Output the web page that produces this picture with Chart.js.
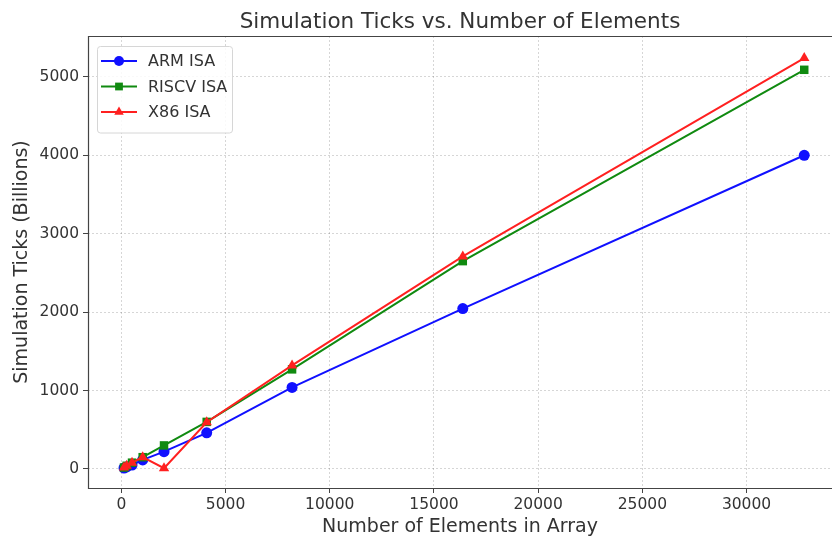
<!DOCTYPE html>
<html>
<head>
<meta charset="utf-8">
<script src="https://cdn.jsdelivr.net/npm/chart.js@4.4.0/dist/chart.umd.min.js"></script>
<style>
  html, body { margin: 0; padding: 0; background: #fff; overflow: hidden; }
  #wrap { width: 832px; height: 538px; }
  canvas { display: block; }
</style>
</head>
<body>
<div id="wrap"><canvas id="chart"></canvas></div>
<script>
// data
const elements = [128, 256, 512, 1024, 2048, 4096, 8192, 16384, 32768];
const armTicks = [12, 25, 50, 115, 220, 460, 1040, 2045, 4000];
const riscvTicks = [18, 40, 80, 150, 300, 600, 1270, 2650, 5090];
const x86Ticks = [18, 40, 80, 150, 10, 595, 1320, 2710, 5240];
const xTickValues = [0, 5000, 10000, 15000, 20000, 25000, 30000];
const yTickValues = [0, 1000, 2000, 3000, 4000, 5000];
const chartTitle = 'Simulation Ticks vs. Number of Elements';

const FONT = "'DejaVu Sans', sans-serif";
const TEXT = '#333333';

function toPoints(ys) {
  return elements.map((x, i) => ({ x: x, y: ys[i] }));
}

// matplotlib-style frame (right spine falls just off the picture), title centred over the axes
const framePlugin = {
  id: 'frame',
  afterDraw(chart) {
    const { ctx, chartArea: a } = chart;
    ctx.save();
    ctx.strokeStyle = '#444';
    ctx.lineWidth = 1.2;
    ctx.beginPath();
    ctx.moveTo(a.right + 4, a.top + 0.5);
    ctx.lineTo(a.left + 0.5, a.top + 0.5);
    ctx.lineTo(a.left + 0.5, a.bottom + 0.5);
    ctx.lineTo(a.right + 4, a.bottom + 0.5);
    ctx.stroke();
    ctx.fillStyle = TEXT;
    ctx.font = '21.5px ' + FONT;
    ctx.textAlign = 'center';
    ctx.textBaseline = 'middle';
    ctx.fillText(chartTitle, (a.left + a.right) / 2, 22);
    ctx.restore();
  }
};

// legend box inside the axes, line + marker like matplotlib
const boxLegend = {
  id: 'boxLegend',
  afterDraw(chart) {
    const { ctx, chartArea: a } = chart;
    const sets = chart.data.datasets;
    const x0 = a.left + 9, y0 = a.top + 10;
    const w = 135, rowH = 25.5, h = 16 + rowH * sets.length - 6;
    ctx.save();
    ctx.fillStyle = 'rgba(255,255,255,0.85)';
    ctx.strokeStyle = '#d6d6d6';
    ctx.lineWidth = 1;
    ctx.beginPath();
    ctx.roundRect(x0 + 0.5, y0 + 0.5, w, h, 3);
    ctx.fill();
    ctx.stroke();
    sets.forEach((ds, i) => {
      const cy = y0 + 15 + i * rowH;
      ctx.strokeStyle = ds.borderColor;
      ctx.lineWidth = 2;
      ctx.beginPath();
      ctx.moveTo(x0 + 4, cy);
      ctx.lineTo(x0 + 40, cy);
      ctx.stroke();
      ctx.fillStyle = ds.pointBackgroundColor;
      ctx.strokeStyle = ds.pointBorderColor;
      Chart.helpers.drawPoint(ctx, { pointStyle: ds.pointStyle, rotation: 0, radius: ds.pointRadius - 0.5, borderWidth: 0 }, x0 + 22, cy);
      ctx.fillStyle = TEXT;
      ctx.font = '16px ' + FONT;
      ctx.textBaseline = 'middle';
      ctx.fillText(ds.label, x0 + 51, cy + 1);
    });
    ctx.restore();
  }
};

const series = [
  { label: 'ARM ISA', data: armTicks, color: '#1010ff', style: 'circle', r: 5.5, order: 2 },
  { label: 'RISCV ISA', data: riscvTicks, color: '#108a10', style: 'rect', r: 6, order: 1 },
  { label: 'X86 ISA', data: x86Ticks, color: '#ff2020', style: 'triangle', r: 6, order: 0 }
];

new Chart(document.getElementById('chart'), {
  type: 'scatter',
  data: {
    datasets: series.map(s => ({
      label: s.label,
      data: toPoints(s.data),
      showLine: true,
      borderColor: s.color,
      backgroundColor: s.color,
      pointBackgroundColor: s.color,
      pointBorderColor: s.color,
      pointStyle: s.style,
      pointRadius: s.r,
      pointBorderWidth: 0,
      borderWidth: 2,
      order: s.order
    }))
  },
  options: {
    responsive: true,
    maintainAspectRatio: false,
    animation: false,
    layout: { autoPadding: false, padding: { left: 0, right: 0, top: 36, bottom: 0 } },
    plugins: {
      legend: { display: false },
      tooltip: { enabled: false },
      title: { display: false }
    },
    scales: {
      x: {
        type: 'linear',
        min: -1600,
        max: 34100,
        afterBuildTicks: axis => { axis.ticks = xTickValues.map(v => ({ value: v })); },
        afterFit: scale => { scale.height = 50; },
        grid: { color: 'rgba(0,0,0,0.16)', tickColor: '#444', tickLength: 5 },
        border: { display: false, dash: [2, 2] },
        ticks: { color: TEXT, font: { family: FONT, size: 15.5 }, padding: 3, maxRotation: 0, callback: v => String(v) },
        title: {
          display: true,
          text: 'Number of Elements in Array',
          color: TEXT,
          font: { family: FONT, size: 19 },
          padding: { top: 0, bottom: 0 }
        }
      },
      y: {
        type: 'linear',
        min: -243,
        max: 5521,
        afterBuildTicks: axis => { axis.ticks = yTickValues.map(v => ({ value: v })); },
        afterFit: scale => { scale.width = 88; },
        grid: { color: 'rgba(0,0,0,0.16)', tickColor: '#444', tickLength: 5 },
        border: { display: false, dash: [2, 2] },
        ticks: { color: TEXT, font: { family: FONT, size: 15.5 }, padding: 4, callback: v => String(v) },
        title: {
          display: true,
          text: 'Simulation Ticks (Billions)',
          color: TEXT,
          font: { family: FONT, size: 19 },
          padding: { top: 10.5, bottom: 0 }
        }
      }
    }
  },
  plugins: [framePlugin, boxLegend]
});
</script>
</body>
</html>
